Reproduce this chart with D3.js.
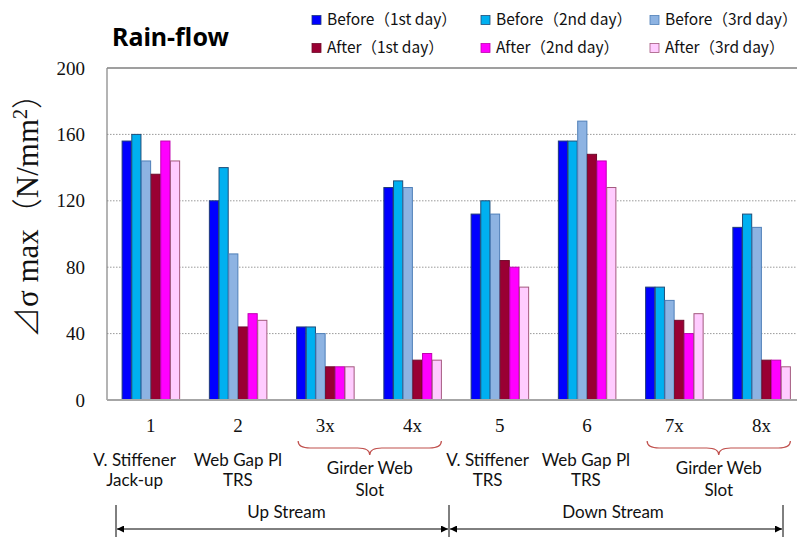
<!DOCTYPE html>
<html>
<head>
<meta charset="utf-8">
<script src="https://cdn.jsdelivr.net/npm/d3@7"></script>
<style>
  html, body { margin: 0; padding: 0; background: #fff; }
  svg { display: block; }
</style>
</head>
<body>
<svg id="chart" width="797" height="537"></svg>
<script>
// Detail locations along the girder
const categories = ["1", "2", "3x", "4x", "5", "6", "7x", "8x"];

// Detail descriptions shown beneath single locations
const detailLabels = [
  { cat: "1", lines: ["V. Stiffener", "Jack-up"] },
  { cat: "2", lines: ["Web Gap Pl", "TRS"] },
  { cat: "5", lines: ["V. Stiffener", "TRS"] },
  { cat: "6", lines: ["Web Gap Pl", "TRS"] }
];
// Descriptions shared by a pair of locations (drawn under a brace)
const pairedLabels = [
  { from: "3x", to: "4x", lines: ["Girder Web", "Slot"] },
  { from: "7x", to: "8x", lines: ["Girder Web", "Slot"] }
];
// Stream regions along the bottom
const streams = [
  { name: "Up Stream", from: "1", to: "4x" },
  { name: "Down Stream", from: "5", to: "8x" }
];

// Series names
const seriesNames = [
  "Before（1st day）", "Before（2nd day）", "Before（3rd day）",
  "After（1st day）", "After（2nd day）", "After（3rd day）"
];

// Δσmax (N/mm²) for each series, in category order
const before1 = [156, 120, 44, 128, 112, 156, 68, 104];
const before2 = [160, 140, 44, 132, 120, 156, 68, 112];
const before3 = [144,  88, 40, 128, 112, 168, 60, 104];
const after1  = [136,  44, 20,  24,  84, 148, 48,  24];
const after2  = [156,  52, 20,  28,  80, 144, 40,  24];
const after3  = [144,  48, 20,  24,  68, 128, 52,  20];
const seriesValues = [before1, before2, before3, after1, after2, after3];

const yTicks = [0, 40, 80, 120, 160, 200];

// Appearance
const fills   = ["#0000ff", "#00b0f0", "#8db3e2", "#990033", "#ff00ff", "#ffccff"];
const strokes = ["#1f3a7a", "#1f4e79", "#4f7fb8", "#6e0a2a", "#c000b0", "#a3587e"];

const svg = d3.select("#chart");

const plot = { left: 107, right: 805, top: 68, bottom: 400 };

const x0 = d3.scaleBand()
  .domain(categories)
  .range([plot.left, plot.right])
  .paddingInner(0.335)
  .paddingOuter(0.1675);

const x1 = d3.scaleBand()
  .domain(d3.range(seriesNames.length))
  .range([0, x0.bandwidth()]);

const y = d3.scaleLinear().domain([0, 200]).range([plot.bottom, plot.top]);

// Horizontal gridlines
const grid = svg.append("g");
grid.selectAll("line")
  .data(yTicks.filter(t => t > 0))
  .join("line")
  .attr("x1", plot.left)
  .attr("x2", 797)
  .attr("y1", d => y(d))
  .attr("y2", d => y(d))
  .attr("stroke", d => d === 200 ? "#7f7f7f" : "#9a9a9a")
  .attr("stroke-width", d => d === 200 ? 1.3 : 1)
  .attr("stroke-dasharray", d => d === 200 ? null : "1.5,1.5");

// Bars
const groups = svg.append("g")
  .selectAll("g")
  .data(categories)
  .join("g")
  .attr("transform", d => `translate(${x0(d)},0)`);

groups.selectAll("rect")
  .data((c, ci) => seriesValues.map((vals, si) => ({ si, v: vals[ci] })))
  .join("rect")
  .attr("x", d => x1(d.si) + 0.5)
  .attr("y", d => y(d.v))
  .attr("width", x1.bandwidth() - 0.5)
  .attr("height", d => y(0) - y(d.v))
  .attr("fill", d => fills[d.si])
  .attr("stroke", d => strokes[d.si])
  .attr("stroke-width", 1);

// Axes lines
svg.append("line")
  .attr("x1", plot.left).attr("x2", plot.left)
  .attr("y1", y(200)).attr("y2", y(0))
  .attr("stroke", "#8c8c8c").attr("stroke-width", 1.3);
svg.append("line")
  .attr("x1", plot.left).attr("x2", 797)
  .attr("y1", y(0)).attr("y2", y(0))
  .attr("stroke", "#a6a6a6").attr("stroke-width", 2);

// Y tick labels
const yAxis = d3.axisLeft(y).tickValues(yTicks).tickSize(0).tickPadding(22);
const yg = svg.append("g")
  .attr("transform", `translate(${plot.left},0)`)
  .call(yAxis);
yg.select(".domain").remove();
yg.selectAll("text")
  .attr("font-family", "'Liberation Serif', 'Times New Roman', serif")
  .attr("font-size", 19)
  .attr("fill", "#111");

// Y axis title
const cjk = "'Noto Sans CJK JP', 'Noto Sans CJK SC', sans-serif";
svg.append("text")
  .attr("transform", "translate(38,208) rotate(-90)")
  .attr("text-anchor", "middle")
  .attr("font-family", "'Liberation Serif', 'Times New Roman', 'DejaVu Serif', serif")
  .attr("font-size", 31)
  .attr("fill", "#111")
  .call(t => {
    t.append("tspan").attr("font-family", cjk).attr("font-weight", 300).text("⊿");
    t.append("tspan").text("σ max");
    t.append("tspan").attr("font-family", cjk).attr("font-weight", 300).text("（");
    t.append("tspan").text("N/mm");
    t.append("tspan").attr("dy", -11).attr("font-size", 20).text("2");
    t.append("tspan").attr("dy", 11).attr("font-family", cjk).attr("font-weight", 300).text("）");
  });

// Category labels
svg.append("g")
  .selectAll("text")
  .data(categories)
  .join("text")
  .attr("x", d => x0(d) + x0.bandwidth() / 2)
  .attr("y", 432)
  .attr("text-anchor", "middle")
  .attr("font-family", "'Liberation Serif', 'Times New Roman', serif")
  .attr("font-size", 19)
  .attr("fill", "#111")
  .text(d => d);

const subFont = "Lato, 'Open Sans', 'Liberation Sans', sans-serif";
const subSize = 17;
const subOffsets = { "1": -16, "2": 0, "5": -12, "6": -1 };

function multiLine(cx, y0, gap, lines) {
  lines.forEach((line, i) => {
    svg.append("text")
      .attr("x", cx)
      .attr("y", y0 + i * gap)
      .attr("text-anchor", "middle")
      .attr("font-family", subFont)
      .attr("font-size", subSize)
      .attr("fill", "#111")
      .text(line);
  });
}

// Single-location descriptions
detailLabels.forEach(d => {
  const cx = x0(d.cat) + x0.bandwidth() / 2 + subOffsets[d.cat];
  multiLine(cx, 466, 20, d.lines);
});

// Braced pair descriptions
pairedLabels.forEach(p => {
  const xa = x0(p.from) + x0.bandwidth() / 2 - 27;
  const xb = x0(p.to) + x0.bandwidth() / 2 + 29;
  const xm = (xa + xb) / 2;
  const top = 441, mid = 448, tip = 455, r = 12;
  svg.append("path")
    .attr("d", `M${xa},${top} Q${xa},${mid} ${xa + r},${mid} L${xm - r},${mid} Q${xm},${mid} ${xm},${tip} ` +
               `Q${xm},${mid} ${xm + r},${mid} L${xb - r},${mid} Q${xb},${mid} ${xb},${top}`)
    .attr("fill", "none")
    .attr("stroke", "#c0504d")
    .attr("stroke-width", 1.2);
  multiLine(xm, 474, 22, p.lines);
});

// Stream extents with double-headed arrows
const defs = svg.append("defs");
["start", "end"].forEach(k => {
  defs.append("marker")
    .attr("id", "arrow-" + k)
    .attr("viewBox", "0 0 10 10")
    .attr("refX", 10).attr("refY", 5)
    .attr("markerWidth", 9).attr("markerHeight", 7)
    .attr("markerUnits", "userSpaceOnUse")
    .attr("orient", k === "start" ? "auto-start-reverse" : "auto")
    .append("path")
    .attr("d", "M0,0 L10,5 L0,10 Z")
    .attr("fill", "#000");
});

const boundaries = [116, 449, 783];
svg.append("g").selectAll("line")
  .data(boundaries)
  .join("line")
  .attr("x1", d => d).attr("x2", d => d)
  .attr("y1", 505).attr("y2", 537)
  .attr("stroke", "#000").attr("stroke-width", 1);

streams.forEach((s, i) => {
  const xa = boundaries[i] + 1, xb = boundaries[i + 1] - 1;
  svg.append("line")
    .attr("x1", xa).attr("x2", xb)
    .attr("y1", 529).attr("y2", 529)
    .attr("stroke", "#000").attr("stroke-width", 1)
    .attr("marker-start", "url(#arrow-start)")
    .attr("marker-end", "url(#arrow-end)");
  svg.append("text")
    .attr("x", (boundaries[i] + boundaries[i + 1]) / 2 + (i === 0 ? 4 : -3))
    .attr("y", 518)
    .attr("text-anchor", "middle")
    .attr("font-family", subFont)
    .attr("font-size", subSize)
    .attr("fill", "#111")
    .text(s.name);
});

// Title
svg.append("text")
  .attr("x", 112).attr("y", 46)
  .attr("font-family", "'Noto Sans', 'Liberation Sans', sans-serif")
  .attr("font-weight", "bold")
  .attr("font-size", 25)
  .attr("fill", "#000")
  .text("Rain-flow");

// Legend: three columns, two rows
const legend = svg.append("g");
const colX = [312, 481, 650];
const rowY = [20, 48];
seriesNames.forEach((name, i) => {
  const col = i % 3, row = Math.floor(i / 3);
  const g = legend.append("g").attr("transform", `translate(${colX[col]},${rowY[row]})`);
  g.append("rect")
    .attr("x", 0).attr("y", -4.5)
    .attr("width", 9).attr("height", 9)
    .attr("fill", fills[i])
    .attr("stroke", strokes[i])
    .attr("stroke-width", 0.8);
  g.append("text")
    .attr("x", 15).attr("y", 0)
    .attr("dy", "0.35em")
    .attr("font-family", "'Noto Sans CJK JP', 'Noto Sans', sans-serif")
    .attr("font-size", 15.5)
    .attr("fill", "#111")
    .text(name);
});
</script>
</body>
</html>
